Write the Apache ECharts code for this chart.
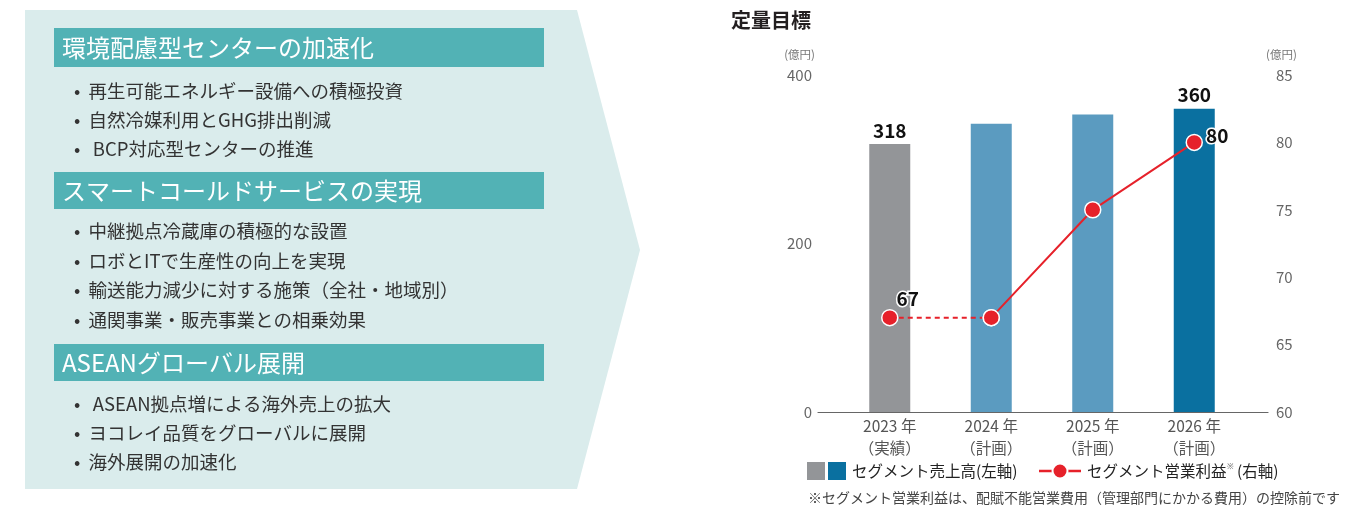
<!DOCTYPE html>
<html><head><meta charset="utf-8">
<script src="https://cdn.jsdelivr.net/npm/echarts@6/dist/echarts.min.js"></script>
<style>html,body{margin:0;padding:0;background:#fff}#c{width:1372px;height:510px}</style>
</head><body><div id="c"></div>
<script>
const years = ['2023 年', '2024 年', '2025 年', '2026 年'];
const yearNotes = ['（実績）', '（計画）', '（計画）', '（計画）'];
const salesValues = [318, 342, 353, 360];
const profitValues = [67, 67, 75, 80];
const labeledIdx = [0, 3];
const leftTicks = { min: 0, max: 400, interval: 200 };
const rightTicks = { min: 60, max: 85, interval: 5 };

const sections = [
  { title: '環境配慮型センターの加速化', items: ['再生可能エネルギー設備への積極投資', '自然冷媒利用とGHG排出削減', ' BCP対応型センターの推進'] },
  { title: 'スマートコールドサービスの実現', items: ['中継拠点冷蔵庫の積極的な設置', 'ロボとITで生産性の向上を実現', '輸送能力減少に対する施策（全社・地域別）', '通関事業・販売事業との相乗効果'] },
  { title: 'ASEANグローバル展開', items: [' ASEAN拠点増による海外売上の拡大', 'ヨコレイ品質をグローバルに展開', '海外展開の加速化'] }
];

const FONT = '"Noto Sans CJK JP", "Noto Sans", sans-serif';
const NUMFONT = '"Liberation Sans Narrow", "Noto Sans CJK JP", sans-serif';
const barColors = ['#939598', '#5b9bc0', '#5b9bc0', '#0a70a0'];
const red = '#e6212a';

// Left panel graphics
const g = [];
g.push({ type: 'polygon', shape: { points: [[25,10],[577,10],[640,250],[577,489],[25,489]] }, style: { fill: '#daecec' }, silent: true });
const headerY = [28, 172, 344];
const headerH = [39, 37, 37];
const bulletY = [[91,120,149],[231,261,290,320],[404,433,462]];
sections.forEach((s, i) => {
  g.push({ type: 'rect', shape: { x: 54, y: headerY[i], width: 490, height: headerH[i] }, style: { fill: '#52b2b5' } });
  g.push({ type: 'text', x: 62, y: headerY[i] + headerH[i] / 2, style: { text: s.title, fill: '#fff', font: '24px ' + FONT, verticalAlign: 'middle' } });
  s.items.forEach((t, j) => {
    g.push({ type: 'text', x: 74, y: bulletY[i][j], style: { text: '•  ' + t, fill: '#333', font: '18.5px ' + FONT, verticalAlign: 'middle' } });
  });
});
// Title
g.push({ type: 'text', x: 731, y: 20, style: { text: '定量目標', fill: '#231f20', font: 'bold 20px ' + FONT, verticalAlign: 'middle' } });
// Legend
g.push({ type: 'rect', shape: { x: 807, y: 462, width: 18, height: 18 }, style: { fill: barColors[0] } });
g.push({ type: 'rect', shape: { x: 828, y: 462, width: 18, height: 18 }, style: { fill: barColors[3] } });
g.push({ type: 'text', x: 852, y: 471, style: { text: 'セグメント売上高(左軸)', fill: '#222', font: '15.5px ' + FONT, verticalAlign: 'middle' } });
g.push({ type: 'line', shape: { x1: 1039, y1: 471, x2: 1081, y2: 471 }, style: { stroke: red, lineWidth: 2.5 } });
g.push({ type: 'circle', shape: { cx: 1060, cy: 471, r: 7.5 }, style: { fill: red, stroke: '#fff', lineWidth: 2 } });
g.push({ type: 'text', x: 1087, y: 471, style: { text: 'セグメント営業利益{s|※} (右軸)', fill: '#222', font: '15.5px ' + FONT, verticalAlign: 'middle', rich: { s: { fontSize: 8, verticalAlign: 'top', fill: '#666', padding: [0, 0, 8, 0] } } } });
// Footnote
g.push({ type: 'text', x: 808, y: 498, style: { text: '※セグメント営業利益は、配賦不能営業費用（管理部門にかかる費用）の控除前です', fill: '#444', font: '14px ' + FONT, verticalAlign: 'middle' } });

const dashedData = profitValues.map((v, i) => (i <= 1 ? v : null));
const solidData = profitValues.map((v, i) => (i >= 1 ? v : null));

const chart = echarts.init(document.getElementById('c'), null, { renderer: 'canvas' });
chart.setOption({
  animation: false,
  textStyle: { fontFamily: FONT },
  grid: [
    { left: 839, right: 127, top: 75, bottom: 98 },
    { left: 818, right: 104, top: 75, bottom: 98 }
  ],
  xAxis: [
    { type: 'category', gridIndex: 0, data: years.map((y, i) => y + '\n' + yearNotes[i]),
      axisLine: { show: false }, axisTick: { show: false },
      axisLabel: { color: '#555', fontSize: 15.5, lineHeight: 22, margin: 3, fontFamily: FONT } },
    { type: 'value', gridIndex: 1, min: 0, max: 1, axisLine: { show: true, lineStyle: { color: '#666', width: 1.2 } },
      axisTick: { show: false }, axisLabel: { show: false }, splitLine: { show: false } }
  ],
  yAxis: [
    { type: 'value', gridIndex: 0, position: 'left', min: leftTicks.min, max: leftTicks.max, interval: leftTicks.interval,
      axisLine: { show: false }, axisTick: { show: false }, splitLine: { show: false },
      axisLabel: { color: '#666', fontSize: 15, margin: 27 },
      name: '(億円)', nameLocation: 'end', nameGap: 20,
      nameTextStyle: { color: '#777', fontSize: 11.5, align: 'right', verticalAlign: 'middle', padding: [0, 24, 0, 0] } },
    { type: 'value', gridIndex: 0, position: 'right', min: rightTicks.min, max: rightTicks.max, interval: rightTicks.interval,
      axisLine: { show: false }, axisTick: { show: false }, splitLine: { show: false },
      axisLabel: { color: '#666', fontSize: 15, margin: 31 },
      name: '(億円)', nameLocation: 'end', nameGap: 20,
      nameTextStyle: { color: '#777', fontSize: 11.5, align: 'left', verticalAlign: 'middle', padding: [0, 0, 0, 21] } },
    { type: 'value', gridIndex: 1, min: 0, max: 1, show: false }
  ],
  series: [
    { type: 'bar', xAxisIndex: 0, yAxisIndex: 0, barWidth: 41,
      data: salesValues.map((v, i) => ({ value: v, itemStyle: { color: barColors[i] } })),
      label: { show: true, position: 'top', distance: 4, color: '#111', fontWeight: 'bold', fontSize: 19, fontFamily: NUMFONT,
        formatter: p => (labeledIdx.includes(p.dataIndex) ? String(p.value) : '') } },
    { type: 'line', xAxisIndex: 0, yAxisIndex: 1, data: dashedData, z: 3,
      lineStyle: { color: red, width: 2, type: [5, 4] }, symbol: 'circle', symbolSize: 16,
      itemStyle: { color: red, borderColor: '#fff', borderWidth: 1.5 },
      label: { show: true, position: 'top', offset: [18, 4], color: '#111', fontWeight: 'bold', fontSize: 19, fontFamily: NUMFONT,
        textBorderColor: '#fff', textBorderWidth: 3,
        formatter: p => (p.dataIndex === labeledIdx[0] ? String(p.value) : '') } },
    { type: 'line', xAxisIndex: 0, yAxisIndex: 1, data: solidData, z: 4,
      lineStyle: { color: red, width: 2 }, symbol: 'circle', symbolSize: 16,
      itemStyle: { color: red, borderColor: '#fff', borderWidth: 1.5 },
      label: { show: true, position: 'right', offset: [-2, -7], color: '#111', fontWeight: 'bold', fontSize: 19, fontFamily: NUMFONT,
        textBorderColor: '#fff', textBorderWidth: 3,
        formatter: p => (p.dataIndex === labeledIdx[1] ? String(p.value) : '') } }
  ],
  graphic: g
});
</script></body></html>
